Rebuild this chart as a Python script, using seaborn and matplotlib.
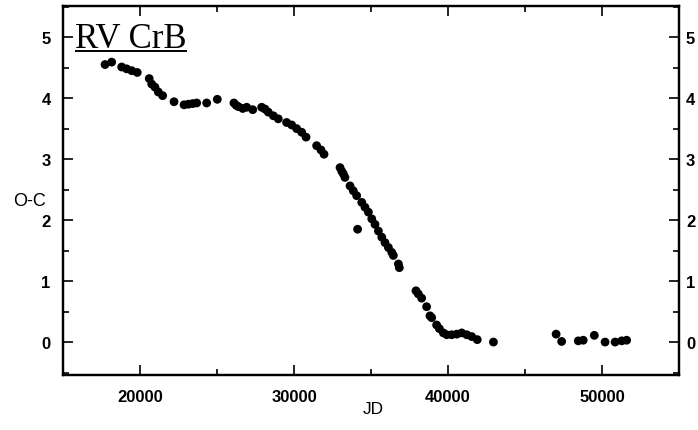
import matplotlib
matplotlib.use("Agg")
import matplotlib.pyplot as plt
import seaborn as sns
import pandas as pd
from matplotlib.ticker import MultipleLocator

# Data
jd = [17730, 18160, 18810, 19130, 19460, 19820, 20600, 20760, 20970, 21190,
      21470, 22210, 22860, 23140, 23420, 23680, 24330, 25020, 26100, 26250,
      26390, 26670, 26930, 27320, 27900, 28120, 28330, 28660, 28980, 29520,
      29850, 30170, 30500, 30780, 31470, 31750, 31950, 32990, 33100, 33200,
      33310, 33640, 33850, 34070, 34400, 34610, 34830, 35050, 35260, 35480,
      34130, 35700, 35910, 36130, 36350, 36450, 36780, 36840, 37920, 38070,
      38290, 38610, 38830, 38940, 39260, 39440, 39700, 39920, 40240, 40570,
      40890, 41220, 41540, 41900, 42950, 47020, 47380, 48460, 48780, 49500,
      50200, 50850, 51280, 51600]
oc = [4.55, 4.59, 4.51, 4.48, 4.45, 4.42, 4.32, 4.23, 4.18, 4.10,
      4.04, 3.94, 3.89, 3.90, 3.91, 3.92, 3.92, 3.98, 3.92, 3.88,
      3.86, 3.83, 3.85, 3.81, 3.85, 3.82, 3.77, 3.71, 3.66, 3.60,
      3.56, 3.50, 3.44, 3.36, 3.22, 3.15, 3.08, 2.86, 2.80, 2.76,
      2.70, 2.56, 2.48, 2.40, 2.29, 2.21, 2.13, 2.02, 1.93, 1.82,
      1.85, 1.72, 1.63, 1.55, 1.47, 1.42, 1.28, 1.22, 0.84, 0.79,
      0.72, 0.58, 0.43, 0.40, 0.28, 0.22, 0.15, 0.12, 0.12, 0.13,
      0.15, 0.12, 0.09, 0.04, 0.00, 0.13, 0.01, 0.02, 0.03, 0.11,
      0.00, 0.00, 0.02, 0.03]

title_text = "RV CrB"
x_label = "JD"
y_label = "O-C"

df = pd.DataFrame({"JD": jd, "OC": oc})

sns.set_theme(style="white")
plt.rcParams["font.family"] = ["Liberation Sans", "DejaVu Sans"]
plt.rcParams["text.color"] = "black"
plt.rcParams["xtick.color"] = "black"
plt.rcParams["ytick.color"] = "black"
plt.rcParams["axes.labelcolor"] = "black"

fig = plt.figure(figsize=(6.98, 4.31), dpi=100)
ax = fig.add_axes([63 / 698, 55 / 431, 616 / 698, 369 / 431])

sns.scatterplot(data=df, x="JD", y="OC", ax=ax, color="black",
                edgecolor="none", s=40, linewidth=0, legend=False)

xlim = (15000, 55000)
ylim = (-0.54, 5.51)
ax.set_xlim(*xlim)
ax.set_ylim(*ylim)

ax.xaxis.set_major_locator(MultipleLocator(10000))
ax.xaxis.set_minor_locator(MultipleLocator(5000))
ax.yaxis.set_major_locator(MultipleLocator(1))
ax.yaxis.set_minor_locator(MultipleLocator(0.5))

ax.tick_params(which="both", direction="in", top=True, right=True,
               bottom=True, left=True, labelright=False, color="black",
               width=1.2)
ax.tick_params(which="major", length=7)
ax.tick_params(which="minor", length=4)
ax.tick_params(axis="y", which="major", labelsize=12, pad=9)
ax.tick_params(axis="x", which="major", labelsize=12, pad=10)

# right-hand labels via twin axis (tighter pad)
ax2 = ax.twinx()
ax2.set_ylim(*ylim)
ax2.yaxis.set_major_locator(MultipleLocator(1))
ax2.yaxis.set_minor_locator(MultipleLocator(0.5))
ax2.tick_params(which="both", direction="in", right=True, left=False,
                labelright=True, color="black", width=1.2)
ax2.tick_params(which="major", length=7, labelsize=12, pad=5)
ax2.tick_params(which="minor", length=4)
ax2.grid(False)

for a in (ax, ax2):
    for lab in a.get_xticklabels() + a.get_yticklabels():
        lab.set_fontweight("bold")
    for sp in a.spines.values():
        sp.set_color("black")
        sp.set_linewidth(1.6)

ax.set_xlabel("")
ax.set_ylabel("")
fig.text(373 / 698, 1 - 410 / 431, x_label, ha="center", va="center",
         fontsize=12.5)
fig.text(29 / 698, 1 - 201 / 431, y_label, ha="center", va="center",
         fontsize=13)

t = ax.text(0.0195, 0.889, title_text, transform=ax.transAxes,
            family=["Liberation Serif", "DejaVu Serif"], fontsize=25,
            ha="left", va="baseline", color="black")
fig.canvas.draw()
bb = t.get_window_extent().transformed(ax.transAxes.inverted())
ax.plot([bb.x0, bb.x1], [0.878, 0.878], transform=ax.transAxes,
        color="black", lw=1.4, solid_capstyle="butt")

fig.savefig("out.png", dpi=100)
